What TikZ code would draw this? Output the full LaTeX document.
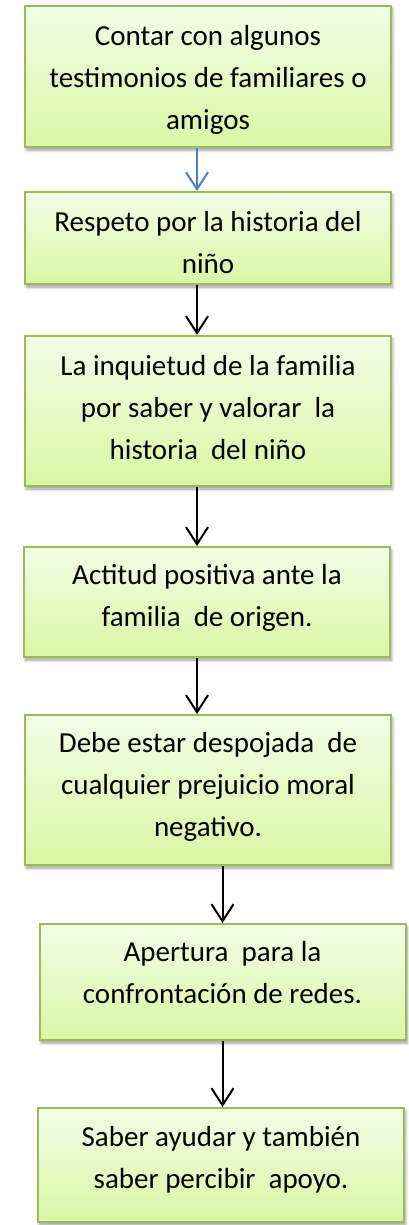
\documentclass[tikz,border=0pt]{standalone}
\usepackage{fontspec}
\setmainfont{Carlito}
\usetikzlibrary{arrows.meta,shadows.blur}
\definecolor{bord}{HTML}{9BBB59}
\definecolor{ftop}{HTML}{F2FDE6}
\definecolor{fbot}{HTML}{D9F7A4}
\definecolor{ablue}{HTML}{4F81BD}
\tikzset{
  stepbox/.style={draw=bord, line width=2pt, top color=ftop, bottom color=fbot,
    inner sep=0pt, minimum width=366pt,
    blur shadow={shadow xshift=1.5pt, shadow yshift=-3pt, shadow blur steps=6, shadow blur radius=3pt}},
  steptext/.style={align=center, inner sep=0pt, font=\fontsize{29}{42}\selectfont},
  conn/.style={line width=2pt, -{Straight Barb[length=17pt,width=22pt,line width=2pt]}}
}
\begin{document}
\begin{tikzpicture}[x=1pt,y=-1pt]
\useasboundingbox (0,0) rectangle (409,1225);
\node[stepbox, minimum height=141pt] (b1) at (208,76.5) {};
\node[stepbox, minimum height=92pt]  (b2) at (208,238) {};
\node[stepbox, minimum height=150pt] (b3) at (208,411) {};
\node[stepbox, minimum height=110pt] (b4) at (207,602) {};
\node[stepbox, minimum height=150pt] (b5) at (208,790) {};
\node[stepbox, minimum height=116pt] (b6) at (222.5,982) {};
\node[stepbox, minimum height=114pt] (b7) at (221,1165) {};

\node[steptext] (t1) at (208,80) {Contar con algunos\\testimonios de familiares o\\amigos};
\node[steptext] (t2) at (208,242.5) {Respeto por la historia del\\niño};
\node[steptext] (t3) at (208,408) {La inquietud de la familia\\por saber y valorar\ \ la\\historia\ \ del niño};
\node[steptext] (t4) at (207,598) {Actitud positiva ante la\\familia\ \ de origen.};
\node[steptext] (t5) at (208,787) {Debe estar despojada\ \ de\\cualquier prejuicio moral\\negativo.};
\node[steptext] (t6) at (222.5,973) {Apertura\ \ para la\\confrontación de redes.};
\node[steptext] (t7) at (221,1160) {Saber ayudar y también\\saber percibir\ \ apoyo.};

\draw[conn, ablue] ([xshift=-11pt]b1.south) -- ([xshift=-11pt]b1.south |- b2.north);
\draw[conn] ([xshift=-11pt]b2.south) -- ([xshift=-11pt]b2.south |- b3.north);
\draw[conn] ([xshift=-11pt]b3.south) -- ([xshift=-11pt]b3.south |- b4.north);
\draw[conn] ([xshift=-11pt]b5.north |- b4.south) -- ([xshift=-11pt]b5.north);
\draw[conn] (b5.south -| b6.north) -- (b6.north);
\draw[conn] (b6.south) -- (b6.south |- b7.north);
\end{tikzpicture}
\end{document}
